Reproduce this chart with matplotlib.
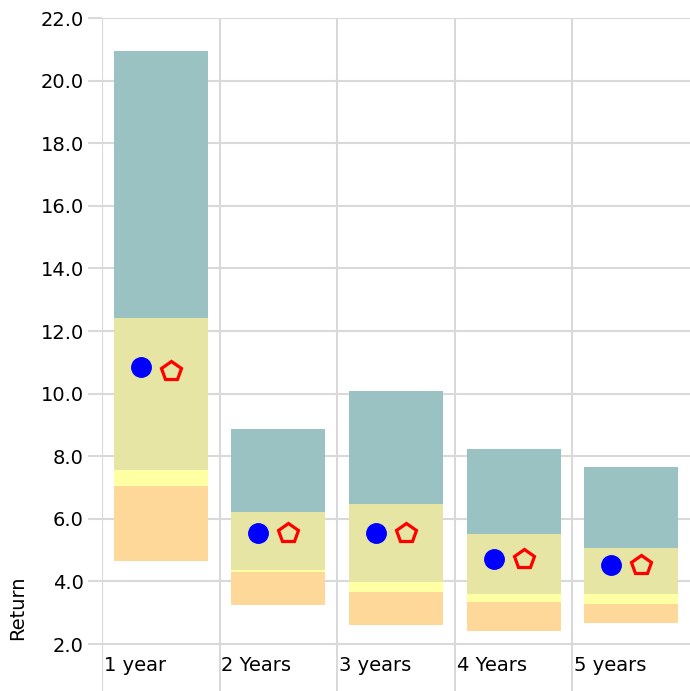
import numpy as np
import matplotlib
matplotlib.use("Agg")
import matplotlib.pyplot as plt

# category labels and band edges
periods = ["1 year", "2 Years", "3 years", "4 Years", "5 years"]
band_low = [4.65, 3.25, 2.61, 2.42, 2.67]
band_q1 = [7.05, 4.30, 3.66, 3.34, 3.28]
band_q2 = [7.56, 4.38, 3.98, 3.60, 3.60]
band_q3 = [12.42, 6.22, 6.47, 5.51, 5.07]
band_high = [20.95, 8.87, 10.08, 8.23, 7.65]
fund_return = [10.85, 5.55, 5.55, 4.72, 4.52]
index_return = [10.72, 5.55, 5.55, 4.72, 4.52]

c_orange = "#fdd899"
c_yellow = "#ffffa3"
c_khaki = "#e6e5a3"
c_teal = "#9ac2c2"
grid_col = "#d9d9d9"

W, H = 690, 691
fig = plt.figure(figsize=(W / 100, H / 100), dpi=100)
ax = fig.add_axes([102 / W, 0, 588 / W, 673 / H])

x = np.arange(len(periods))
low = np.array(band_low)
q1 = np.array(band_q1)
q2 = np.array(band_q2)
q3 = np.array(band_q3)
high = np.array(band_high)

ax.bar(x, q1 - low, bottom=low, width=0.8, color=c_orange, zorder=2)
ax.bar(x, q2 - q1, bottom=q1, width=0.8, color=c_yellow, zorder=2)
ax.bar(x, q3 - q2, bottom=q2, width=0.8, color=c_khaki, zorder=2)
ax.bar(x, high - q3, bottom=q3, width=0.8, color=c_teal, zorder=2)

ax.plot(x - 0.17, fund_return, "o", color="blue", markersize=14, zorder=3)
ax.plot(x + 0.085, index_return, "p", markerfacecolor="none",
        markeredgecolor="red", markeredgewidth=2.3, markersize=15, zorder=3)

ax.set_xlim(-0.5, 4.5)
ax.set_ylim(0.5, 22)
ax.set_yticks(np.arange(2, 22.1, 2))
ax.set_yticklabels([f"{v:.1f}" for v in np.arange(2, 22.1, 2)])
ax.set_xticks([])
ax.set_xticks(x - 0.5, minor=True)
ax.tick_params(axis="x", which="both", length=0, labelbottom=False)
ax.tick_params(axis="y", length=10, width=1.5, color=grid_col,
               labelsize=14, pad=3)
ax.grid(axis="y", which="major", color=grid_col, linewidth=1.5, zorder=0)
ax.grid(axis="x", which="minor", color=grid_col, linewidth=1.5, zorder=0)
for s in ax.spines.values():
    s.set_visible(False)

for i, name in enumerate(periods):
    ax.text(i - 0.5 + 0.015, 1.3, name, ha="left", va="center", fontsize=14)

fig.text(18 / W, 1 - 608 / H, "Return", rotation=90, ha="center",
         va="center", fontsize=14)

fig.savefig("out.png", dpi=100)
